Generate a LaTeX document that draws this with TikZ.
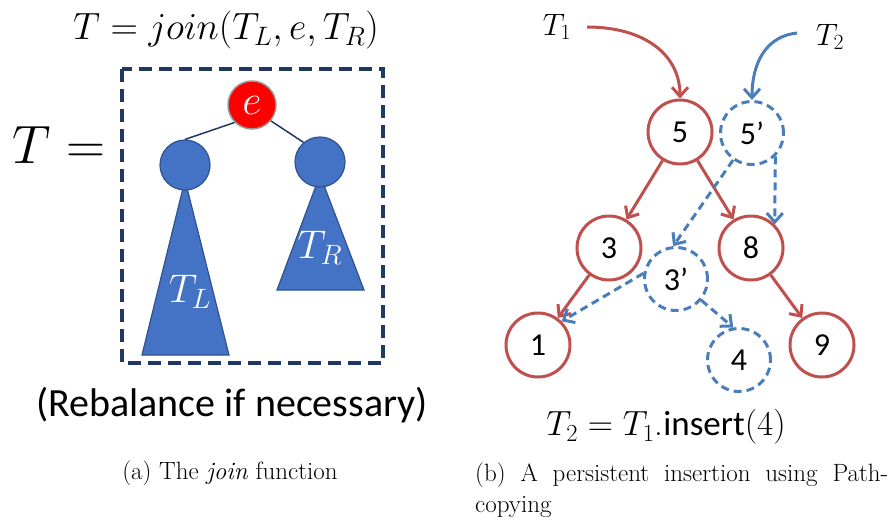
\documentclass[tikz,border=0pt]{standalone}
\usepackage{fix-cm}
\usepackage{fontspec}
\setsansfont{Carlito}
\usetikzlibrary{arrows.meta,calc}
\definecolor{navy}{HTML}{203864}
\definecolor{tblue}{HTML}{4472C4}
\definecolor{tblueB}{HTML}{2F528F}
\definecolor{ored}{HTML}{C0504D}
\definecolor{oblue}{HTML}{4A7EBB}
\begin{document}
\begin{tikzpicture}[x=1pt,y=-1pt,
  redn/.style={circle,draw=ored,line width=3pt,fill=white,minimum size=64pt,inner sep=0pt,font=\sffamily\fontsize{32}{34}\selectfont},
  bluen/.style={circle,draw=oblue,line width=3pt,dash pattern=on 8pt off 5pt,minimum size=63pt,inner sep=0pt,font=\sffamily\fontsize{32}{34}\selectfont},
  redar/.style={draw=ored,line width=3pt,-{Straight Barb[length=9pt,width=16pt,line width=3pt]}},
  bluear/.style={draw=oblue,line width=3pt,dash pattern=on 8pt off 5pt,-{Straight Barb[length=9pt,width=16pt,line width=3pt]}},
  bluesolid/.style={draw=oblue,line width=3pt,-{Straight Barb[length=9pt,width=16pt,line width=3pt]}},
  tnode/.style={circle,draw=tblueB,line width=1.2pt,fill=tblue,minimum size=50pt,inner sep=0pt},
  tri/.style={draw=tblueB,line width=1.2pt,fill=tblue},
  edge/.style={draw=navy,line width=1.5pt},
  lbl/.style={inner sep=0pt}
]
\useasboundingbox (0,0) rectangle (896,523);

% ---------- left panel ----------
\node[lbl,font=\fontsize{38}{44}\selectfont] (title) at (226,30) {$T = join(T_L,e,T_R)$};
\node[lbl,font=\fontsize{54}{60}\selectfont] (teq) at (59,145) {$T =$};
\draw[navy,line width=4pt,dash pattern=on 13pt off 7pt] (122,69) rectangle (383,363);
\path[tri] (185,180) -- (229,355) -- (142,355) -- cycle;
\path[tri] (320,175) -- (364,290) -- (277,290) -- cycle;
\node[tnode] (lc) at (185,165) {};
\node[tnode] (rc) at (320,162) {};
\node[circle,draw=gray!80,line width=1.5pt,fill=red,minimum size=48pt,inner sep=0pt,text=white,font=\fontsize{42}{44}\selectfont] (e) at (252,105) {$e$};
\draw[edge] (e.-135) -- (lc.north);
\draw[edge] (e.-40) -- (rc.130);
\node[lbl,text=white,font=\fontsize{40}{44}\selectfont] (tl) at (190,292) {$T_L$};
\node[lbl,text=white,font=\fontsize{40}{44}\selectfont] (tr) at (320,248) {$T_R$};
\node[lbl,font=\sffamily\fontsize{40}{46}\selectfont] (reb) at (232,405) {(Rebalance if necessary)};

% ---------- right panel ----------
\node[redn] (n5) at (680,132) {5};
\node[bluen] (n5p) at (752,133) {5’};
\node[redn] (n3) at (609,248) {3};
\node[redn] (n8) at (751,248) {8};
\node[bluen] (n3p) at (676,279) {3’};
\node[redn] (n1) at (538,345) {1};
\node[bluen] (n4) at (739,360) {4};
\node[redn] (n9) at (822,345) {9};
\node[lbl,font=\fontsize{31}{34}\selectfont] (t1) at (557,27) {$T_1$};
\node[lbl,font=\fontsize{31}{34}\selectfont] (t2) at (830,37) {$T_2$};
\coordinate (t1s) at (587,27);
\coordinate (t2s) at (797,33);

\draw[redar] (t1s) .. controls (645,27) and (680,55) .. (n5.north);
\draw[bluesolid] (t2s) .. controls (768,36) and (752,60) .. (n5p.north);
\draw[redar] (n5) -- (n3);
\draw[redar] (n5) -- (n8);
\draw[redar] (n3) -- (n1);
\draw[redar] (n8) -- (n9);
\draw[bluear] (n5p.-125) -- (n3p.95);
\draw[bluear] (n5p.-45) -- (n8.45);
\draw[bluear] (n3p.170) -- (n1.45);
\draw[bluear] (n3p.-40) -- (n4.100);

\node[lbl,font=\fontsize{35}{38}\selectfont] (ins) at (666,427) {$T_2 = T_1$.\textsf{insert}$(4)$};

% ---------- captions ----------
\node[lbl,font=\fontsize{25}{29}\selectfont] (capa) at (230,473) {(a) The \textit{join} function};
\node[lbl,anchor=base west,font=\fontsize{25}{29}\selectfont] (capb) at (475,481) {\makebox[413pt][s]{(b) A persistent insertion using Path-}};
\node[lbl,anchor=base west,font=\fontsize{25}{29}\selectfont] (capc) at (475,512) {copying};
\end{tikzpicture}
\end{document}
